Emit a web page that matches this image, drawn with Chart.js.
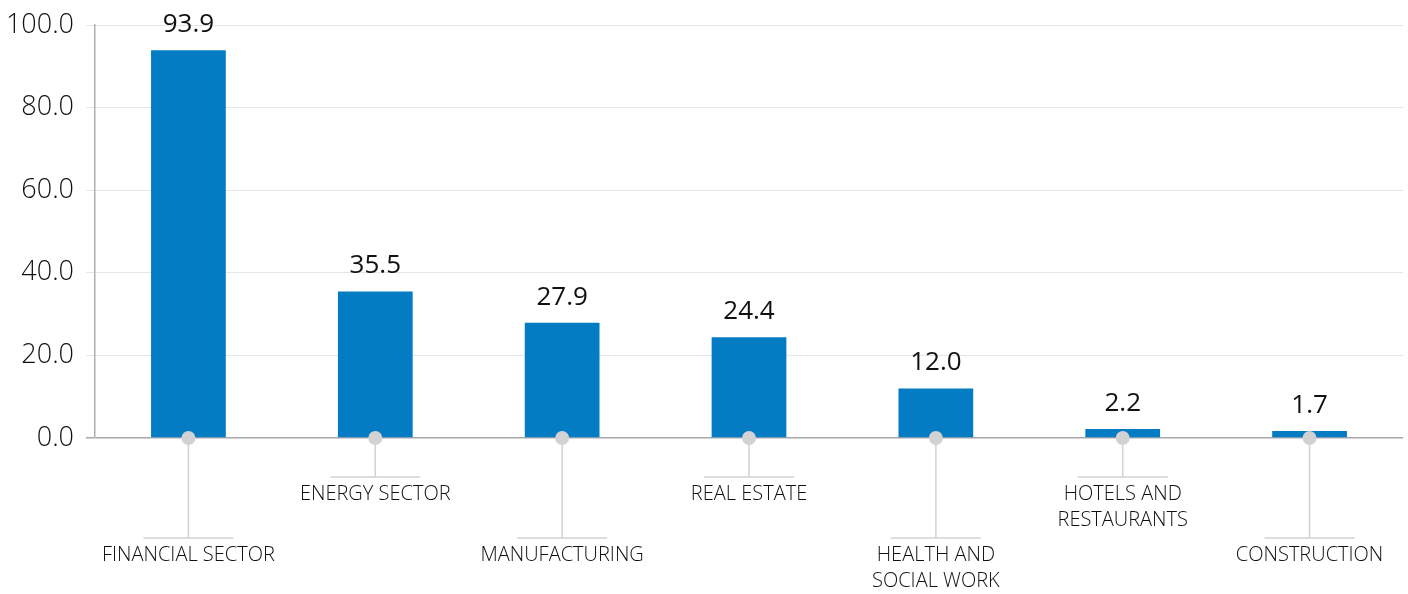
<!DOCTYPE html>
<html>
<head>
<meta charset="utf-8">
<script src="https://cdn.jsdelivr.net/npm/chart.js@4.4.0/dist/chart.umd.min.js"></script>
<style>
  body { margin: 0; background: #fff; }
  #wrap { width: 1408px; height: 594px; }
</style>
</head>
<body>
<div id="wrap"><canvas id="myChart"></canvas></div>
<script>
// data
let categories = [
  ['FINANCIAL SECTOR'],
  ['ENERGY SECTOR'],
  ['MANUFACTURING'],
  ['REAL ESTATE'],
  ['HEALTH AND', 'SOCIAL WORK'],
  ['HOTELS AND', 'RESTAURANTS'],
  ['CONSTRUCTION']
];
let values = [93.9, 35.5, 27.9, 24.4, 12.0, 2.2, 1.7];
let yTicks = [0, 20, 40, 60, 80, 100];

let fontName = "'Open Sans', sans-serif";
let greyLine = '#d2d2d4';

// value labels above the bars
let valueLabels = {
  id: 'valueLabels',
  afterDatasetsDraw(chart) {
    let c = chart.ctx;
    let meta = chart.getDatasetMeta(0);
    c.save();
    c.font = '400 26px ' + fontName;
    c.fillStyle = '#111';
    c.textAlign = 'center';
    c.textBaseline = 'alphabetic';
    meta.data.forEach((bar, i) => {
      c.fillText(values[i].toFixed(1), bar.x, bar.y - 18);
    });
    c.restore();
  }
};

// staggered category labels with connector lines and dots
let callouts = {
  id: 'callouts',
  afterDraw(chart) {
    let c = chart.ctx;
    let x = chart.scales.x;
    let y0 = chart.scales.y.getPixelForValue(0);
    c.save();
    categories.forEach((lines, i) => {
      let cx = x.getPixelForValue(i);
      let lineY = i % 2 === 1 ? y0 + 39 : y0 + 100;
      c.strokeStyle = greyLine;
      c.lineWidth = 1.5;
      c.beginPath();
      c.moveTo(cx, y0);
      c.lineTo(cx, lineY);
      c.moveTo(cx - 45, lineY);
      c.lineTo(cx + 45, lineY);
      c.stroke();
      c.fillStyle = greyLine;
      c.beginPath();
      c.arc(cx, y0, 7, 0, Math.PI * 2);
      c.fill();
      c.font = '300 20px ' + fontName;
      c.fillStyle = '#111';
      c.textAlign = 'center';
      c.textBaseline = 'middle';
      lines.forEach((t, k) => {
        c.fillText(t, cx, lineY + 17 + k * 26);
      });
    });
    c.restore();
  }
};

new Chart(document.getElementById('myChart'), {
  type: 'bar',
  data: {
    labels: categories.map(l => l.join(' ')),
    datasets: [{
      data: values,
      backgroundColor: '#037cc4',
      barPercentage: 0.4,
      categoryPercentage: 1.0
    }]
  },
  options: {
    responsive: true,
    maintainAspectRatio: false,
    animation: false,
    layout: { padding: { top: 25, right: 5, bottom: 148, left: 0 } },
    plugins: { legend: { display: false }, tooltip: { enabled: false } },
    scales: {
      x: {
        grid: { display: false },
        border: { display: false },
        ticks: { display: false }
      },
      y: {
        min: 0,
        max: 100,
        afterFit(scale) {
          scale.width = 95;
          scale.paddingTop = 0;
          scale.paddingBottom = 0;
        },
        afterBuildTicks(scale) { scale.ticks = yTicks.map(v => ({ value: v })); },
        border: { color: '#b0b0b4', width: 1.5 },
        grid: {
          color: ctx => ctx.tick && ctx.tick.value === 0 ? '#a8a8ac' : '#e6e6e8',
          lineWidth: ctx => ctx.tick && ctx.tick.value === 0 ? 1.5 : 1,
          tickLength: 9
        },
        ticks: {
          padding: 12,
          color: '#111',
          font: { family: fontName, size: 27, weight: '300' },
          callback: v => v.toFixed(1)
        }
      }
    }
  },
  plugins: [valueLabels, callouts]
});
</script>
</body>
</html>
